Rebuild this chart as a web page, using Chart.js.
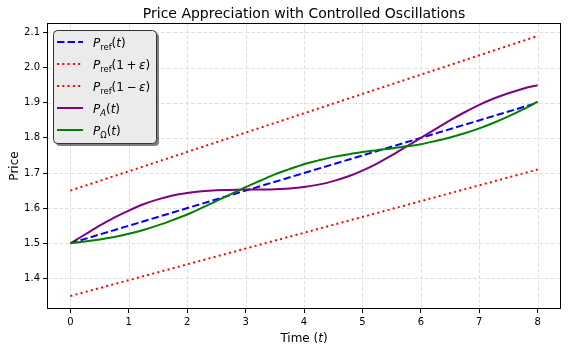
<!DOCTYPE html>
<html><head><meta charset="utf-8">
<script src="https://cdn.jsdelivr.net/npm/chart.js@4"></script>
<style>html,body{margin:0;padding:0;background:#fff}#wrap{width:568px;height:352px}</style>
</head><body><div id="wrap"><canvas id="c" width="568" height="352"></canvas></div>
<script>
// ---- data ----
const times = [0,0.25,0.5,0.75,1,1.25,1.5,1.75,2,2.25,2.5,2.75,3,3.25,3.5,3.75,4,4.25,4.5,4.75,5,5.25,5.5,5.75,6,6.25,6.5,6.75,7,7.25,7.5,7.75,8];
const pA = [1.500,1.525,1.550,1.573,1.593,1.611,1.625,1.636,1.643,1.648,1.651,1.652,1.653,1.653,1.654,1.656,1.660,1.667,1.677,1.690,1.707,1.727,1.750,1.775,1.800,1.825,1.850,1.873,1.894,1.912,1.927,1.940,1.950];
const pOmega = [1.500,1.505,1.511,1.518,1.527,1.538,1.551,1.566,1.582,1.601,1.620,1.640,1.660,1.678,1.696,1.711,1.725,1.736,1.746,1.753,1.760,1.765,1.770,1.776,1.782,1.791,1.801,1.813,1.827,1.843,1.861,1.881,1.903];
const refTimes = [0, 8];
const pRef = [1.50, 1.90];
const pUpper = [1.65, 2.09];
const pLower = [1.35, 1.71];
const xTicks = [0,1,2,3,4,5,6,7,8];
const yTicks = [1.4,1.5,1.6,1.7,1.8,1.9,2.0,2.1];

const FONT = '"DejaVu Sans", sans-serif';
const pts = (xs, ys) => xs.map((x, i) => ({x: x, y: ys[i]}));

// legend entries: rich-text parts
const legendItems = [
  {color:'#0000ff', dash:[7.4,3.2], parts:[{t:'P',i:1},{t:'ref',s:1},{t:'('},{t:'t',i:1},{t:')'}]},
  {color:'#ff0000', dash:[2,3.3], parts:[{t:'P',i:1},{t:'ref',s:1},{t:'(1'},{g:2.5},{t:'+'},{g:2.5},{t:'ε',i:1},{t:')'}]},
  {color:'#ff0000', dash:[2,3.3], parts:[{t:'P',i:1},{t:'ref',s:1},{t:'(1'},{g:2.5},{t:'−'},{g:2.5},{t:'ε',i:1},{t:')'}]},
  {color:'#800080', dash:[], parts:[{t:'P',i:1},{t:'A',s:1,i:1},{t:'('},{t:'t',i:1},{t:')'}]},
  {color:'#008000', dash:[], parts:[{t:'P',i:1},{t:'Ω',s:1},{t:'('},{t:'t',i:1},{t:')'}]}
];

function drawRich(ctx, parts, x, y, size) {
  for (const p of parts) {
    if (p.g) { x += p.g; continue; }
    const sz = p.s ? size * 0.7 : size;
    ctx.font = (p.i ? 'italic ' : '') + sz + 'px ' + FONT;
    ctx.fillText(p.t, x, y + (p.s ? 3 : 0));
    x += ctx.measureText(p.t).width;
  }
  return x;
}

const decor = {
  id: 'decor',
  beforeDatasetsDraw(chart) {
    const ctx = chart.ctx, a = chart.chartArea;
    const xs = chart.scales.x, ys = chart.scales.y;
    ctx.save();
    ctx.strokeStyle = '#d9d9d9';
    ctx.lineWidth = 0.8;
    ctx.setLineDash([4, 2]);
    xTicks.forEach(v => {
      const px = Math.round(xs.getPixelForValue(v)) + 0.5;
      ctx.beginPath(); ctx.moveTo(px, a.top); ctx.lineTo(px, a.bottom); ctx.stroke();
    });
    yTicks.forEach(v => {
      const py = Math.round(ys.getPixelForValue(v)) + 0.5;
      ctx.beginPath(); ctx.moveTo(a.left, py); ctx.lineTo(a.right, py); ctx.stroke();
    });
    ctx.restore();
  },
  afterDraw(chart) {
    const ctx = chart.ctx, a = chart.chartArea;
    ctx.save();
    // frame
    ctx.strokeStyle = '#000';
    ctx.lineWidth = 1;
    ctx.setLineDash([]);
    ctx.strokeRect(Math.round(a.left) + 0.5, Math.round(a.top) + 0.5, Math.round(a.right - a.left) - 1, Math.round(a.bottom - a.top) - 1);
    // title
    ctx.fillStyle = '#000';
    ctx.textAlign = 'center';
    ctx.textBaseline = 'alphabetic';
    ctx.font = '14px ' + FONT;
    ctx.fillText('Price Appreciation with Controlled Oscillations', (a.left + a.right) / 2, 18);
    // y label
    ctx.save();
    ctx.translate(18, (a.top + a.bottom) / 2);
    ctx.rotate(-Math.PI / 2);
    ctx.font = '12px ' + FONT;
    ctx.fillText('Price', 0, 0);
    ctx.restore();
    // x label with italic t
    ctx.textAlign = 'left';
    const xparts = [{t:'Time ('},{t:'t',i:1},{t:')'}];
    let w = 0;
    xparts.forEach(p => { ctx.font = (p.i ? 'italic ' : '') + '12px ' + FONT; w += ctx.measureText(p.t).width; });
    drawRich(ctx, xparts, (a.left + a.right) / 2 - w / 2, 342, 12);
    // legend
    const bx = 53.5, by = 30.5, bw = 103, bh = 113;
    ctx.fillStyle = 'rgba(0,0,0,0.5)';
    ctx.beginPath(); ctx.roundRect(bx + 2.5, by + 2.5, bw, bh, 4); ctx.fill();
    ctx.fillStyle = '#ebebeb';
    ctx.beginPath(); ctx.roundRect(bx, by, bw, bh, 4); ctx.fill();
    ctx.strokeStyle = '#333';
    ctx.lineWidth = 1;
    ctx.stroke();
    legendItems.forEach((it, k) => {
      const cy = 42 + k * 22;
      ctx.strokeStyle = it.color;
      ctx.lineWidth = 2;
      ctx.setLineDash(it.dash);
      ctx.beginPath(); ctx.moveTo(57, cy); ctx.lineTo(83, cy); ctx.stroke();
      ctx.setLineDash([]);
      ctx.fillStyle = '#000';
      drawRich(ctx, it.parts, 93, cy + 4.5, 12);
    });
    ctx.restore();
  }
};

new Chart(document.getElementById('c'), {
  type: 'line',
  data: {
    datasets: [
      {data: pts(refTimes, pRef), borderColor:'#0000ff', borderWidth:2, borderDash:[7.4,3.2], pointRadius:0, order:4},
      {data: pts(refTimes, pUpper), borderColor:'#ff0000', borderWidth:2, borderDash:[2,3.3], pointRadius:0, order:3},
      {data: pts(refTimes, pLower), borderColor:'#ff0000', borderWidth:2, borderDash:[2,3.3], pointRadius:0, order:2},
      {data: pts(times, pA), borderColor:'#800080', borderWidth:2, pointRadius:0, cubicInterpolationMode:'monotone', order:1},
      {data: pts(times, pOmega), borderColor:'#008000', borderWidth:2, pointRadius:0, cubicInterpolationMode:'monotone', order:0}
    ]
  },
  options: {
    responsive: false,
    animation: false,
    devicePixelRatio: 1,
    layout: {padding: {top: 23, right: 7, left: 0, bottom: 0}},
    plugins: {legend: {display: false}, title: {display: false}, tooltip: {enabled: false}},
    scales: {
      x: {
        type: 'linear', min: -0.4, max: 8.4,
        afterBuildTicks: s => { s.ticks = xTicks.map(v => ({value: v})); },
        afterFit: s => { s.height = 43; },
        grid: {drawOnChartArea: false, drawTicks: true, tickLength: 4, tickColor: '#000', color: '#000'},
        border: {display: false},
        ticks: {font: {family: 'DejaVu Sans', size: 10}, color: '#000', padding: 3, maxRotation: 0, callback: v => String(v)}
      },
      y: {
        type: 'linear', min: 1.313, max: 2.127,
        afterBuildTicks: s => { s.ticks = yTicks.map(v => ({value: v})); },
        afterFit: s => { s.width = 47; },
        grid: {drawOnChartArea: false, drawTicks: true, tickLength: 4, tickColor: '#000', color: '#000'},
        border: {display: false},
        ticks: {font: {family: 'DejaVu Sans', size: 10}, color: '#000', padding: 3, callback: v => Number(v).toFixed(1)}
      }
    }
  },
  plugins: [decor]
});
</script>
</body></html>
